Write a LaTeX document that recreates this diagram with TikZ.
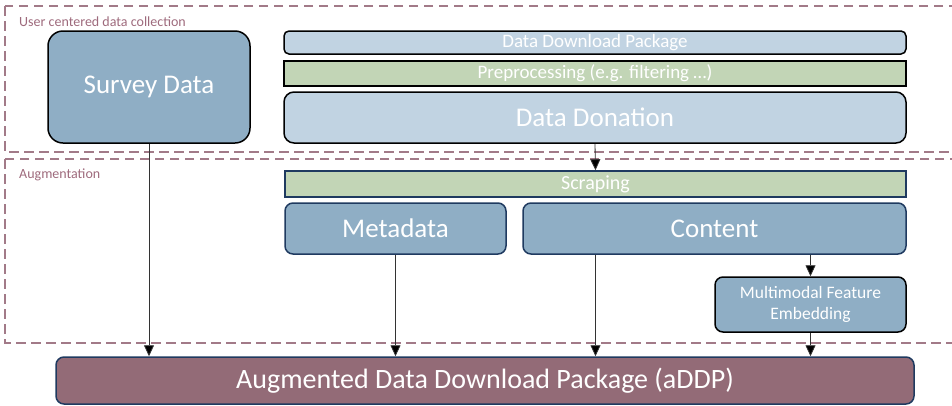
\documentclass[tikz,border=0pt]{standalone}
\usepackage{fontspec}
\setmainfont{Carlito}
\usetikzlibrary{arrows.meta}
\definecolor{boxblue}{HTML}{8FAEC5}
\definecolor{lightblue}{HTML}{C1D3E2}
\definecolor{boxgreen}{HTML}{C2D5B6}
\definecolor{mauve}{HTML}{936B77}
\definecolor{framecol}{HTML}{A27A88}
\definecolor{labelcol}{HTML}{9E6A7C}
\definecolor{navy}{HTML}{1F3A60}
\definecolor{arrowcol}{HTML}{333333}
\tikzset{
  base/.style={rectangle, draw, line width=1.5pt, text=white, inner sep=0pt, align=center},
  bluebox/.style={base, fill=boxblue},
  lightbox/.style={base, fill=lightblue},
  greenbox/.style={base, fill=boxgreen},
  frame/.style={draw=framecol, line width=2.2pt, dash pattern=on 9.5pt off 5.5pt},
  framelabel/.style={text=labelcol, font=\fontsize{14}{16}\selectfont, anchor=west, inner sep=0pt},
  conn/.style={draw=arrowcol, line width=0.8pt, -{Triangle[width=10pt,length=11pt,fill=black]}},
}
\begin{document}
\begin{tikzpicture}[x=1pt,y=-1pt]
\useasboundingbox (0,0) rectangle (952,405);
\clip (0,0) rectangle (952,405);
% frames
\draw[frame] (5,6) rectangle (958,152);
\draw[frame] (5,159) rectangle (958,343);
\node[framelabel] (lab1) at (19,22) {User centered data collection};
\node[framelabel] (lab2) at (19,175) {Augmentation};
% nodes
\node[bluebox, rounded corners=15pt, minimum width=202pt, minimum height=112pt,
      font=\fontsize{27}{30}\selectfont] (survey) at (149,87) {Survey Data};
\node[lightbox, rounded corners=5pt, minimum width=622pt, minimum height=23pt,
      font=\fontsize{19}{21}\selectfont] (ddp) at (595,42.5) {Data Download Package};
\node[greenbox, minimum width=622pt, minimum height=25pt,
      font=\fontsize{19}{21}\selectfont] (prep) at (595,73.5) {Preprocessing (e.g. filtering …)};
\node[lightbox, rounded corners=10pt, minimum width=622pt, minimum height=51pt,
      font=\fontsize{27}{30}\selectfont] (don) at (595,117.5) {Data Donation};
\node[greenbox, draw=navy, minimum width=621pt, minimum height=26pt,
      font=\fontsize{20}{22}\selectfont] (scrap) at (595.5,184) {Scraping};
\node[bluebox, draw=navy, rounded corners=8pt, minimum width=221pt, minimum height=51pt,
      font=\fontsize{27}{30}\selectfont] (meta) at (395.5,228.5) {Metadata};
\node[bluebox, draw=navy, rounded corners=8pt, minimum width=383pt, minimum height=51pt,
      font=\fontsize{27}{30}\selectfont] (content) at (714.5,228.5) {Content};
\node[bluebox, rounded corners=8pt, minimum width=191pt, minimum height=55pt,
      font=\fontsize{17.5}{21.5}\selectfont] (mfe) at (810.5,304.5) {Multimodal Feature\\Embedding};
\node[base, fill=mauve, draw=navy, rounded corners=8pt, minimum width=858pt, minimum height=47pt,
      font=\fontsize{28}{32}\selectfont] (addp) at (485,380.5) {Augmented Data Download Package (aDDP)};
% connectors
\draw[conn] (don.south) -- (scrap.north);
\draw[conn] (content.south -| mfe.north) -- (mfe.north);
\draw[conn] (survey.south) -- (survey.south |- addp.north);
\draw[conn] (meta.south) -- (meta.south |- addp.north);
\draw[conn] (content.south -| scrap.north) -- (scrap.north |- addp.north);
\draw[conn] (mfe.south) -- (mfe.south |- addp.north);
\end{tikzpicture}
\end{document}
